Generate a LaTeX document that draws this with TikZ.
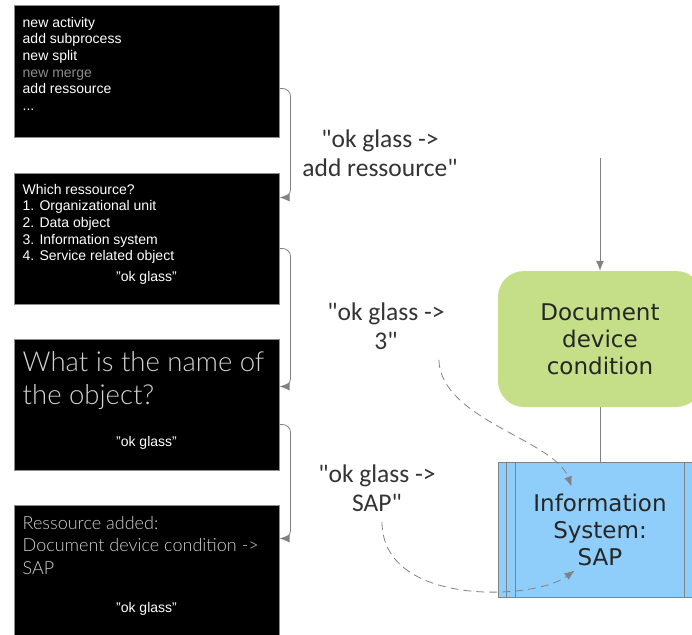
\documentclass[tikz,border=0pt]{standalone}
\usepackage{fontspec}
\setmainfont{Liberation Sans}
\newfontfamily\glassthin{Lato Light}
\newfontfamily\calloutfont{Carlito}
\newfontfamily\shapefont{DejaVu Sans}
\usetikzlibrary{positioning,calc,arrows.meta}
\definecolor{glassgray}{HTML}{8C8C8C}
\definecolor{linegray}{HTML}{828282}
\definecolor{taskgreen}{HTML}{C5DF89}
\definecolor{sysblue}{HTML}{8FCEFA}
\definecolor{dimwhite}{HTML}{D2D2D2}
\begin{document}
\begin{tikzpicture}[x=1pt,y=-1pt]
    \tikzstyle{every node}=[inner sep=0pt, align=left]
    \tikzset{
        screen/.style={draw=glassgray, fill=black, line width=1pt, minimum width=265pt, minimum height=131pt},
        menu/.style={text=white, anchor=north west, font=\fontsize{14}{16.6}\selectfont},
        thin/.style={text=dimwhite, anchor=north west},
        okg/.style={text=white, font=\fontsize{14}{16}\selectfont},
        callout/.style={align=center, text=black!80, font=\calloutfont\fontsize{25.5}{29.5}\selectfont},
        flow/.style={draw=linegray, line width=0.8pt, rounded corners=8pt, -{Latex[length=10pt,width=8pt]}},
        dashflow/.style={draw=linegray, line width=0.8pt, dash pattern=on 8pt off 5pt, -{Latex[length=10pt,width=8pt]}},
        shapetext/.style={align=center, text=black!85, font=\shapefont\fontsize{23}{27}\selectfont}
        }
    \clip (0,0) rectangle (692,634);

    %screens
    \node (s1) [screen] at (146.5,71.5) {};
    \node (s2) [screen, below=35pt of s1] {};
    \node (s3) [screen, below=34pt of s2] {};
    \node (s4) [screen, below=34pt of s3] {};

    %screen texts
    \node (s1text) [menu] at ($(s1.north west)+(9,11.5)$) {new activity\\add subprocess\\new split\\{\color{glassgray}new merge}\\add ressource\\...};
    \node (s2text) [menu] at ($(s2.north west)+(9,11.5)$) {Which ressource?\\1. Organizational unit\\2. Data object\\3. Information system\\4. Service related object};
    \node (s2ok) [okg] at ($(s2.north)+(0,105)$) {"ok glass"};
    \node (s3text) [thin, font=\glassthin\fontsize{27.5}{33}\selectfont] at ($(s3.north west)+(9,13)$) {What is the name of\\the object?};
    \node (s3ok) [okg] at ($(s3.north)+(0,104)$) {"ok glass"};
    \node (s4text) [thin, font=\glassthin\fontsize{18}{22.5}\selectfont] at ($(s4.north west)+(9,11.5)$) {Ressource added:\\Document device condition ->\\SAP};
    \node (s4ok) [okg] at ($(s4.north)+(0,104)$) {"ok glass"};

    %screen flow
    \coordinate (s1out) at ($(s1.north east)+(0,83)$);
    \coordinate (s2in) at ($(s2.north east)+(0,25)$);
    \coordinate (s2out) at ($(s2.north east)+(0,76)$);
    \coordinate (s3in) at ($(s3.north east)+(0,48)$);
    \coordinate (s3out) at ($(s3.north east)+(0,86)$);
    \coordinate (s4in) at ($(s4.north east)+(0,34)$);
    \draw[flow] (s1out) -| ($(s2in)+(11,0)$) -- (s2in);
    \draw[flow] (s2out) -| ($(s3in)+(11,0)$) -- (s3in);
    \draw[flow] (s3out) -| ($(s4in)+(11,0)$) -- (s4in);

    %voice commands
    \node (cmd1) [callout] at (380,153) {"ok glass ->\\add ressource"};
    \node (cmd2) [callout] at (386,326) {"ok glass ->\\3"};
    \node (cmd3) [callout] at (377,488) {"ok glass ->\\SAP"};

    %process
    \coordinate (in) at (600,158);
    \node (doc) [shapetext, fill=taskgreen, rounded corners=26pt, minimum width=204pt, minimum height=136pt] at (600,339) {Document\\device\\condition};
    \node (sap) [shapetext, fill=sysblue, draw=linegray, line width=1pt, minimum width=204pt, minimum height=135pt] at (600,529.5) {Information\\System:\\SAP};
    \draw[linegray, line width=1pt] ($(sap.north west)+(9,0)$) -- ($(sap.south west)+(9,0)$);
    \draw[linegray, line width=1pt] ($(sap.north west)+(18,0)$) -- ($(sap.south west)+(18,0)$);
    \draw[linegray, line width=1pt] ($(sap.north east)+(-18,0)$) -- ($(sap.south east)+(-18,0)$);

    \draw[flow] (in) -- (doc.north);
    \draw[linegray, line width=0.8pt] (doc.south) -- (sap.north);

    % commands into the shape
    \coordinate (sapkind) at ($(sap.north west)+(74,25)$);
    \coordinate (sapname) at ($(sap.south west)+(77,-27)$);
    \draw[dashflow] ($(cmd2.south east)+(-6,10)$) .. controls +(2,60) and +(-17,-47) .. (sapkind);
    \draw[dashflow] ($(cmd3.south)+(5,10)$) .. controls +(0,85) and +(-40,30) .. (sapname);
\end{tikzpicture}
\end{document}
